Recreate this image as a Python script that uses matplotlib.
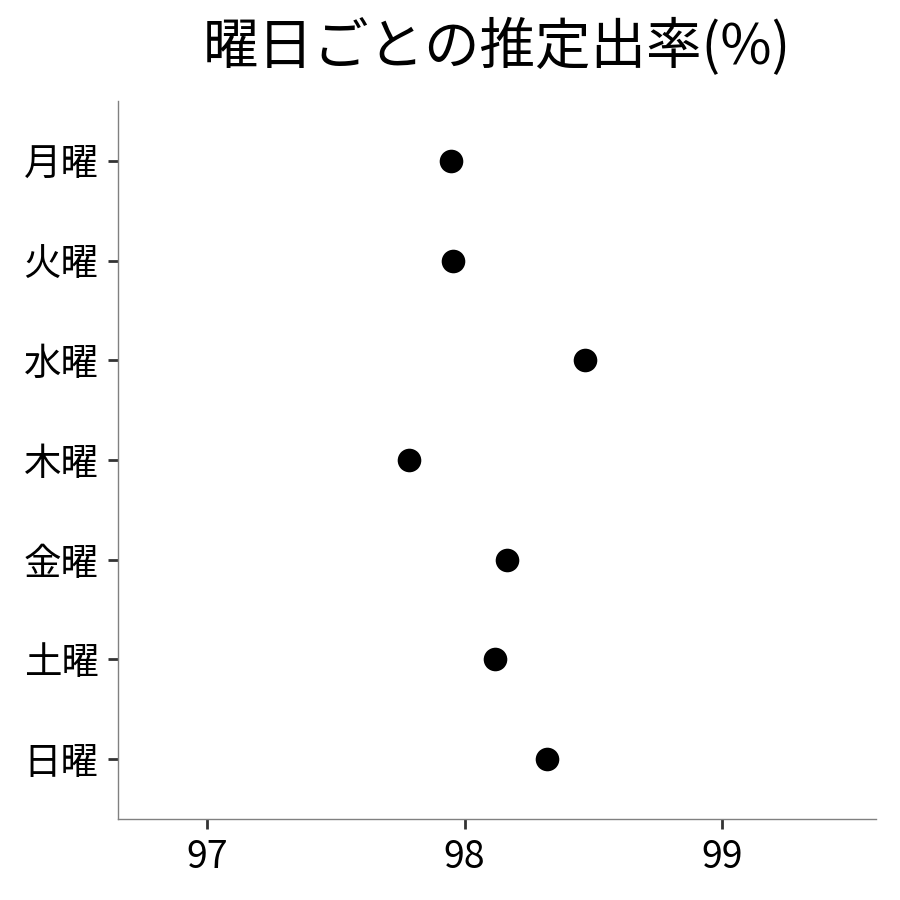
import matplotlib
matplotlib.use("Agg")
import matplotlib.pyplot as plt

plt.rcParams['font.family'] = ['Noto Sans CJK JP', 'DejaVu Sans']

days = ["月曜", "火曜", "水曜", "木曜", "金曜", "土曜", "日曜"]
rates = [97.948, 97.955, 98.468, 97.784, 98.165, 98.118, 98.32]
xticks = [97, 98, 99]
title = "曜日ごとの推定出率(%)"

fig = plt.figure(figsize=(9, 9), dpi=100)
ax = fig.add_axes([118/900, 81/900, (876-118)/900, (819-101)/900])

n = len(days)
ypos = [n - i for i in range(n)]
ax.scatter(rates, ypos, s=17**2, color="black", zorder=3, linewidths=0)

ax.set_xlim(96.654, 99.598)
ax.set_ylim(0.4, n + 0.6)
ax.set_yticks(ypos)
ax.set_yticklabels(days)
ax.set_xticks(xticks)
ax.set_xticklabels([str(t) for t in xticks])

for s in ["top", "right"]:
    ax.spines[s].set_visible(False)
for s in ["left", "bottom"]:
    ax.spines[s].set_color("#808080")
    ax.spines[s].set_linewidth(1.0)

ax.tick_params(axis="both", length=7, width=2, color="#333333", labelsize=27, labelcolor="black", pad=7)

fig.text((118+876)/2/900, 1 - 48/900, title, ha="center", va="center", fontsize=40)

fig.savefig("out.png", dpi=100)
